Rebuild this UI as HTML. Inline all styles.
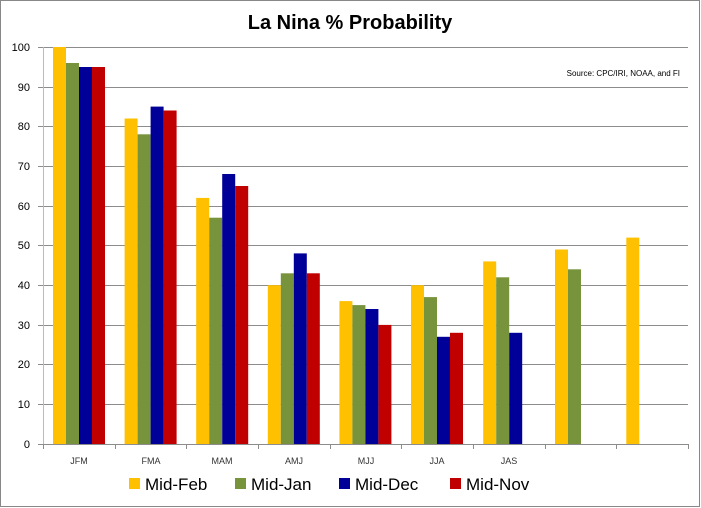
<!DOCTYPE html>
<html><head><meta charset="utf-8"><style>
body{margin:0;background:#fff;}
svg{display:block;font-family:"Liberation Sans",sans-serif;}
</style></head><body>
<svg width="701" height="508" viewBox="0 0 701 508">
<rect x="0.5" y="0.5" width="699" height="506" fill="#fff" stroke="#888"/>
<text x="350" y="29" text-anchor="middle" font-size="20" font-weight="bold">La Nina % Probability</text>
<g stroke="#8c8c8c" stroke-width="1">
<line x1="38" x2="688" y1="47.5" y2="47.5"/>
<line x1="38" x2="688" y1="87.5" y2="87.5"/>
<line x1="38" x2="688" y1="126.5" y2="126.5"/>
<line x1="38" x2="688" y1="166.5" y2="166.5"/>
<line x1="38" x2="688" y1="206.5" y2="206.5"/>
<line x1="38" x2="688" y1="245.5" y2="245.5"/>
<line x1="38" x2="688" y1="285.5" y2="285.5"/>
<line x1="38" x2="688" y1="325.5" y2="325.5"/>
<line x1="38" x2="688" y1="364.5" y2="364.5"/>
<line x1="38" x2="688" y1="404.5" y2="404.5"/>
<line x1="38" x2="688" y1="444.5" y2="444.5"/>
</g>
<line x1="43.5" x2="43.5" y1="47" y2="444" stroke="#bbb"/>
<g stroke="#8c8c8c">
<line x1="43.5" x2="43.5" y1="444" y2="449"/><line x1="115.5" x2="115.5" y1="444" y2="449"/>
<line x1="186.5" x2="186.5" y1="444" y2="449"/><line x1="258.5" x2="258.5" y1="444" y2="449"/>
<line x1="330.5" x2="330.5" y1="444" y2="449"/><line x1="401.5" x2="401.5" y1="444" y2="449"/>
<line x1="473.5" x2="473.5" y1="444" y2="449"/><line x1="545.5" x2="545.5" y1="444" y2="449"/>
<line x1="616.5" x2="616.5" y1="444" y2="449"/><line x1="688.5" x2="688.5" y1="444" y2="449"/>
</g>
<g font-size="11" text-anchor="end" fill="#000">
<text x="30" y="51">100</text><text x="30" y="91">90</text><text x="30" y="130">80</text>
<text x="30" y="170">70</text><text x="30" y="210">60</text><text x="30" y="249">50</text>
<text x="30" y="289">40</text><text x="30" y="329">30</text><text x="30" y="368">20</text>
<text x="30" y="408">10</text><text x="30" y="448">0</text>
</g>
<g font-size="9" text-anchor="middle" fill="#333">
<text x="79" y="464">JFM</text><text x="151" y="464">FMA</text><text x="222" y="464">MAM</text>
<text x="294" y="464">AMJ</text><text x="366" y="464">MJJ</text><text x="437" y="464">JJA</text>
<text x="509" y="464">JAS</text>
</g>
<text x="680" y="76" font-size="8" text-anchor="end" fill="#000">Source: CPC/IRI, NOAA, and FI</text>
<g>
<!-- JFM -->
<rect x="53" y="47" width="13" height="397" fill="#ffc000"/>
<rect x="66" y="63" width="13" height="381" fill="#77933c"/>
<rect x="79" y="67" width="13" height="377" fill="#000099"/>
<rect x="92" y="67" width="13" height="377" fill="#c00000"/>
<!-- FMA -->
<rect x="124.6" y="118.5" width="13" height="325.5" fill="#ffc000"/>
<rect x="137.6" y="134.3" width="13" height="309.7" fill="#77933c"/>
<rect x="150.6" y="106.6" width="13" height="337.4" fill="#000099"/>
<rect x="163.6" y="110.5" width="13" height="333.5" fill="#c00000"/>
<!-- MAM -->
<rect x="196.2" y="197.9" width="13" height="246.1" fill="#ffc000"/>
<rect x="209.2" y="217.7" width="13" height="226.3" fill="#77933c"/>
<rect x="222.2" y="174.0" width="13" height="270.0" fill="#000099"/>
<rect x="235.2" y="186.0" width="13" height="258.0" fill="#c00000"/>
<!-- AMJ -->
<rect x="267.8" y="285.2" width="13" height="158.8" fill="#ffc000"/>
<rect x="280.8" y="273.3" width="13" height="170.7" fill="#77933c"/>
<rect x="293.8" y="253.4" width="13" height="190.6" fill="#000099"/>
<rect x="306.8" y="273.3" width="13" height="170.7" fill="#c00000"/>
<!-- MJJ -->
<rect x="339.4" y="301.1" width="13" height="142.9" fill="#ffc000"/>
<rect x="352.4" y="305.1" width="13" height="138.9" fill="#77933c"/>
<rect x="365.4" y="309.0" width="13" height="135.0" fill="#000099"/>
<rect x="378.4" y="324.9" width="13" height="119.1" fill="#c00000"/>
<!-- JJA -->
<rect x="411" y="285.2" width="13" height="158.8" fill="#ffc000"/>
<rect x="424" y="297.1" width="13" height="146.9" fill="#77933c"/>
<rect x="437" y="336.8" width="13" height="107.2" fill="#000099"/>
<rect x="450" y="332.8" width="13" height="111.2" fill="#c00000"/>
<!-- JAS -->
<rect x="483.2" y="261.4" width="13" height="182.6" fill="#ffc000"/>
<rect x="496.2" y="277.3" width="13" height="166.7" fill="#77933c"/>
<rect x="509.2" y="332.8" width="13" height="111.2" fill="#000099"/>
<!-- 8 -->
<rect x="555" y="249.5" width="13" height="194.5" fill="#ffc000"/>
<rect x="568" y="269.3" width="13" height="174.7" fill="#77933c"/>
<!-- 9 -->
<rect x="626.3" y="237.6" width="13" height="206.4" fill="#ffc000"/>
</g>
<g font-size="17" fill="#000">
<rect x="129" y="478" width="11" height="11" fill="#ffc000"/><text x="145" y="490">Mid-Feb</text>
<rect x="235" y="478" width="11" height="11" fill="#77933c"/><text x="251" y="490">Mid-Jan</text>
<rect x="339" y="478" width="11" height="11" fill="#000099"/><text x="355" y="490">Mid-Dec</text>
<rect x="450" y="478" width="11" height="11" fill="#c00000"/><text x="466" y="490">Mid-Nov</text>
</g>
</svg>
</body></html>
